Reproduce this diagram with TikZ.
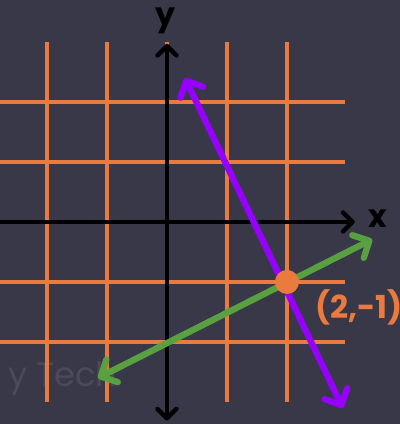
\documentclass[tikz,border=0pt]{standalone}
\usepackage{fontspec}
\setmainfont{Poppins}
\usetikzlibrary{arrows.meta}
\definecolor{bgcolor}   {RGB}{56, 56, 72}
\definecolor{gridcolor} {RGB}{235, 122, 62}
\definecolor{purpcolor} {RGB}{150, 0, 255}
\definecolor{greencolor}{RGB}{88, 160, 64}
\definecolor{markcolor} {RGB}{74, 74, 88}
\tikzset{
	gridline/.style={
		draw=gridcolor, line width=1.8pt
	},
	axisline/.style={
		-{Straight Barb[length=4.5pt,width=9pt,round]},
		line width=2.1pt, color=black, line cap=round
	},
	dblaxisline/.style={
		{Straight Barb[length=4.5pt,width=9pt,round]}-{Straight Barb[length=4.5pt,width=9pt,round]},
		line width=2.1pt, color=black, line cap=round
	},
	axislabel/.style={
		font=\bfseries\fontsize{15}{15}\selectfont, text=black
	},
	plotline/.style={
		{Straight Barb[length=6pt,width=12pt,round]}-{Straight Barb[length=6pt,width=12pt,round]},
		line width=3pt, line cap=round
	},
	pointlabel/.style={
		font=\bfseries\fontsize{15}{15}\selectfont, text=gridcolor
	}
}

\begin{document}
\begin{tikzpicture}

	%% background
	\fill[bgcolor] (-2.783,-3.367) rectangle (3.883,3.7);
	\useasboundingbox (-2.783,-3.367) rectangle (3.883,3.7);
	\clip (-2.783,-3.367) rectangle (3.883,3.7);

	%% watermark
	\node[font=\fontsize{16}{16}\selectfont, text=markcolor, anchor=west] (mark) at (-2.77,-2.6) {y Tech};

	%% grid
	\foreach \x in {-2,-1,0,1,2}
		\draw[gridline] (\x,-3) -- (\x,3);
	\foreach \y in {-2,-1,0,1,2}
		\draw[gridline] (-2.9,\y) -- (2.97,\y);

	%% axes
	\coordinate (xleft)  at (-3.2,0);
	\coordinate (xright) at (3.13,0);
	\coordinate (ybot)   at (0,-3.31);
	\coordinate (ytop)   at (0,2.97);
	\draw[axisline] (xleft) -- (xright);
	\draw[dblaxisline] (ybot) -- (ytop);
	\node[axislabel] (xlab) at (3.52,0.05) {x};
	\node[axislabel] (ylab) at (-0.03,3.36) {y};

	%% lines
	\coordinate (ptop) at (0.3,2.4);
	\coordinate (pbot) at (2.93,-3.1);
	\coordinate (gleft)  at (-1.15,-2.6);
	\coordinate (gright) at (3.42,-0.29);
	\draw[plotline, color=purpcolor] (ptop) -- (pbot);
	\draw[plotline, color=greencolor] (gleft) -- (gright);

	%% intersection
	\fill[gridcolor] (2,-1) circle (0.2);
	\node[pointlabel] (plab) at (3.2,-1.43) {(2,-1)};

\end{tikzpicture}
\end{document}
